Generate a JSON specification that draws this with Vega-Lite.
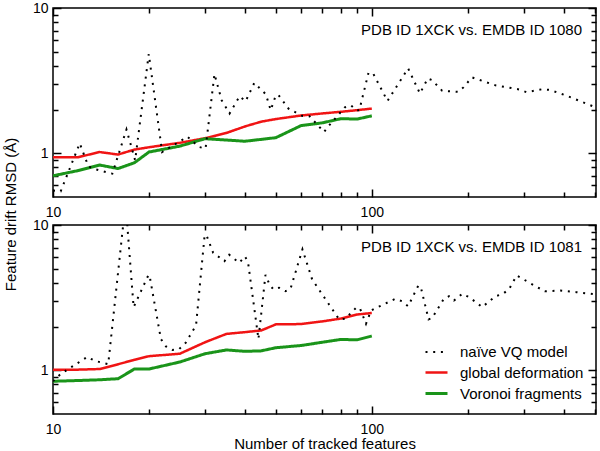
{
  "$schema": "https://vega.github.io/schema/vega-lite/v6.json",
  "padding": {"left": 2, "top": 0, "right": 5, "bottom": 5},
  "bounds": "flush",
  "spacing": 28,
  "config": {
    "font": "Liberation Sans",
    "view": {"stroke": "black", "strokeWidth": 1.5},
    "axis": {"domain": false, "grid": false, "ticks": true, "tickColor": "#000000", "tickOpacity": 1, "tickWidth": 1.5, "zindex": 1, "labelColor": "black", "titleColor": "black", "labelFont": "Liberation Sans", "titleFont": "Liberation Sans", "labelFontSize": 14, "titleFontSize": 15, "titleFontWeight": "normal", "labelFlush": false, "labelOverlap": false},
    "legend": {"labelFont": "Liberation Sans", "labelColor": "black"},
    "title": {"font": "Liberation Sans", "fontSize": 15, "fontWeight": "normal", "color": "black"}
  },
  "datasets": {
    "top": [
      {"features": 10, "rmsd": 0.94, "series": "global deformation"},
      {"features": 12, "rmsd": 0.94, "series": "global deformation"},
      {"features": 14, "rmsd": 1.02, "series": "global deformation"},
      {"features": 16, "rmsd": 0.98, "series": "global deformation"},
      {"features": 18, "rmsd": 1.06, "series": "global deformation"},
      {"features": 20, "rmsd": 1.10, "series": "global deformation"},
      {"features": 25, "rmsd": 1.18, "series": "global deformation"},
      {"features": 30, "rmsd": 1.27, "series": "global deformation"},
      {"features": 35, "rmsd": 1.38, "series": "global deformation"},
      {"features": 40, "rmsd": 1.53, "series": "global deformation"},
      {"features": 45, "rmsd": 1.65, "series": "global deformation"},
      {"features": 50, "rmsd": 1.72, "series": "global deformation"},
      {"features": 60, "rmsd": 1.82, "series": "global deformation"},
      {"features": 70, "rmsd": 1.88, "series": "global deformation"},
      {"features": 80, "rmsd": 1.93, "series": "global deformation"},
      {"features": 90, "rmsd": 1.98, "series": "global deformation"},
      {"features": 100, "rmsd": 2.03, "series": "global deformation"},
      {"features": 10, "rmsd": 0.70, "series": "Voronoi fragments"},
      {"features": 12, "rmsd": 0.76, "series": "Voronoi fragments"},
      {"features": 14, "rmsd": 0.83, "series": "Voronoi fragments"},
      {"features": 16, "rmsd": 0.785, "series": "Voronoi fragments"},
      {"features": 18, "rmsd": 0.86, "series": "Voronoi fragments"},
      {"features": 20, "rmsd": 1.02, "series": "Voronoi fragments"},
      {"features": 25, "rmsd": 1.12, "series": "Voronoi fragments"},
      {"features": 30, "rmsd": 1.26, "series": "Voronoi fragments"},
      {"features": 40, "rmsd": 1.21, "series": "Voronoi fragments"},
      {"features": 50, "rmsd": 1.28, "series": "Voronoi fragments"},
      {"features": 60, "rmsd": 1.55, "series": "Voronoi fragments"},
      {"features": 70, "rmsd": 1.62, "series": "Voronoi fragments"},
      {"features": 80, "rmsd": 1.73, "series": "Voronoi fragments"},
      {"features": 90, "rmsd": 1.72, "series": "Voronoi fragments"},
      {"features": 100, "rmsd": 1.81, "series": "Voronoi fragments"},
      {"features": 10, "rmsd": 0.555, "series": "naïve VQ model"},
      {"features": 10.57, "rmsd": 0.547, "series": "naïve VQ model"},
      {"features": 12.13, "rmsd": 1.17, "series": "naïve VQ model"},
      {"features": 12.9, "rmsd": 0.817, "series": "naïve VQ model"},
      {"features": 13.35, "rmsd": 0.784, "series": "naïve VQ model"},
      {"features": 15.35, "rmsd": 0.724, "series": "naïve VQ model"},
      {"features": 17.0, "rmsd": 1.457, "series": "naïve VQ model"},
      {"features": 18.1, "rmsd": 0.895, "series": "naïve VQ model"},
      {"features": 19.97, "rmsd": 4.82, "series": "naïve VQ model"},
      {"features": 22.0, "rmsd": 1.02, "series": "naïve VQ model"},
      {"features": 26.4, "rmsd": 1.30, "series": "naïve VQ model"},
      {"features": 28.7, "rmsd": 1.105, "series": "naïve VQ model"},
      {"features": 30.1, "rmsd": 1.077, "series": "naïve VQ model"},
      {"features": 32.1, "rmsd": 3.51, "series": "naïve VQ model"},
      {"features": 33.8, "rmsd": 2.32, "series": "naïve VQ model"},
      {"features": 35.8, "rmsd": 1.88, "series": "naïve VQ model"},
      {"features": 38.5, "rmsd": 2.47, "series": "naïve VQ model"},
      {"features": 40.2, "rmsd": 2.28, "series": "naïve VQ model"},
      {"features": 42.8, "rmsd": 3.05, "series": "naïve VQ model"},
      {"features": 46.5, "rmsd": 2.55, "series": "naïve VQ model"},
      {"features": 48.2, "rmsd": 1.98, "series": "naïve VQ model"},
      {"features": 50, "rmsd": 2.51, "series": "naïve VQ model"},
      {"features": 51, "rmsd": 2.51, "series": "naïve VQ model"},
      {"features": 54.8, "rmsd": 2.03, "series": "naïve VQ model"},
      {"features": 60.4, "rmsd": 1.81, "series": "naïve VQ model"},
      {"features": 63.8, "rmsd": 1.80, "series": "naïve VQ model"},
      {"features": 70.8, "rmsd": 1.40, "series": "naïve VQ model"},
      {"features": 73.6, "rmsd": 1.56, "series": "naïve VQ model"},
      {"features": 82.3, "rmsd": 2.07, "series": "naïve VQ model"},
      {"features": 86.0, "rmsd": 2.14, "series": "naïve VQ model"},
      {"features": 89.3, "rmsd": 1.98, "series": "naïve VQ model"},
      {"features": 91.4, "rmsd": 1.98, "series": "naïve VQ model"},
      {"features": 97.7, "rmsd": 3.60, "series": "naïve VQ model"},
      {"features": 101.2, "rmsd": 3.51, "series": "naïve VQ model"},
      {"features": 112, "rmsd": 2.29, "series": "naïve VQ model"},
      {"features": 130, "rmsd": 3.84, "series": "naïve VQ model"},
      {"features": 141.6, "rmsd": 2.58, "series": "naïve VQ model"},
      {"features": 149.8, "rmsd": 3.27, "series": "naïve VQ model"},
      {"features": 154.5, "rmsd": 3.19, "series": "naïve VQ model"},
      {"features": 166.3, "rmsd": 2.69, "series": "naïve VQ model"},
      {"features": 186.7, "rmsd": 2.65, "series": "naïve VQ model"},
      {"features": 193.8, "rmsd": 2.84, "series": "naïve VQ model"},
      {"features": 206, "rmsd": 3.33, "series": "naïve VQ model"},
      {"features": 244, "rmsd": 2.94, "series": "naïve VQ model"},
      {"features": 290, "rmsd": 2.75, "series": "naïve VQ model"},
      {"features": 306, "rmsd": 2.63, "series": "naïve VQ model"},
      {"features": 342, "rmsd": 2.76, "series": "naïve VQ model"},
      {"features": 362, "rmsd": 2.73, "series": "naïve VQ model"},
      {"features": 405, "rmsd": 2.51, "series": "naïve VQ model"},
      {"features": 504, "rmsd": 2.07, "series": "naïve VQ model"}
    ],
    "bottom": [
      {"features": 10, "rmsd": 1.01, "series": "global deformation"},
      {"features": 12, "rmsd": 1.01, "series": "global deformation"},
      {"features": 14, "rmsd": 1.02, "series": "global deformation"},
      {"features": 16, "rmsd": 1.10, "series": "global deformation"},
      {"features": 18, "rmsd": 1.18, "series": "global deformation"},
      {"features": 20, "rmsd": 1.25, "series": "global deformation"},
      {"features": 25, "rmsd": 1.30, "series": "global deformation"},
      {"features": 30, "rmsd": 1.56, "series": "global deformation"},
      {"features": 35, "rmsd": 1.78, "series": "global deformation"},
      {"features": 40, "rmsd": 1.83, "series": "global deformation"},
      {"features": 45, "rmsd": 1.88, "series": "global deformation"},
      {"features": 50, "rmsd": 2.07, "series": "global deformation"},
      {"features": 60, "rmsd": 2.08, "series": "global deformation"},
      {"features": 70, "rmsd": 2.17, "series": "global deformation"},
      {"features": 80, "rmsd": 2.27, "series": "global deformation"},
      {"features": 90, "rmsd": 2.42, "series": "global deformation"},
      {"features": 100, "rmsd": 2.48, "series": "global deformation"},
      {"features": 10, "rmsd": 0.84, "series": "Voronoi fragments"},
      {"features": 12, "rmsd": 0.85, "series": "Voronoi fragments"},
      {"features": 14, "rmsd": 0.86, "series": "Voronoi fragments"},
      {"features": 16, "rmsd": 0.875, "series": "Voronoi fragments"},
      {"features": 18, "rmsd": 1.02, "series": "Voronoi fragments"},
      {"features": 20, "rmsd": 1.02, "series": "Voronoi fragments"},
      {"features": 25, "rmsd": 1.14, "series": "Voronoi fragments"},
      {"features": 30, "rmsd": 1.30, "series": "Voronoi fragments"},
      {"features": 35, "rmsd": 1.38, "series": "Voronoi fragments"},
      {"features": 40, "rmsd": 1.35, "series": "Voronoi fragments"},
      {"features": 45, "rmsd": 1.36, "series": "Voronoi fragments"},
      {"features": 50, "rmsd": 1.43, "series": "Voronoi fragments"},
      {"features": 60, "rmsd": 1.48, "series": "Voronoi fragments"},
      {"features": 70, "rmsd": 1.56, "series": "Voronoi fragments"},
      {"features": 80, "rmsd": 1.63, "series": "Voronoi fragments"},
      {"features": 90, "rmsd": 1.62, "series": "Voronoi fragments"},
      {"features": 100, "rmsd": 1.72, "series": "Voronoi fragments"},
      {"features": 10, "rmsd": 0.84, "series": "naïve VQ model"},
      {"features": 10.57, "rmsd": 0.943, "series": "naïve VQ model"},
      {"features": 12.8, "rmsd": 1.235, "series": "naïve VQ model"},
      {"features": 13.55, "rmsd": 1.16, "series": "naïve VQ model"},
      {"features": 14.9, "rmsd": 1.10, "series": "naïve VQ model"},
      {"features": 16.6, "rmsd": 10.0, "series": "naïve VQ model"},
      {"features": 17.1, "rmsd": 10.0, "series": "naïve VQ model"},
      {"features": 17.9, "rmsd": 2.72, "series": "naïve VQ model"},
      {"features": 19.94, "rmsd": 4.54, "series": "naïve VQ model"},
      {"features": 20.1, "rmsd": 4.45, "series": "naïve VQ model"},
      {"features": 21.8, "rmsd": 1.64, "series": "naïve VQ model"},
      {"features": 22.6, "rmsd": 1.46, "series": "naïve VQ model"},
      {"features": 23.7, "rmsd": 1.38, "series": "naïve VQ model"},
      {"features": 24.8, "rmsd": 1.39, "series": "naïve VQ model"},
      {"features": 26.1, "rmsd": 1.55, "series": "naïve VQ model"},
      {"features": 28.1, "rmsd": 2.04, "series": "naïve VQ model"},
      {"features": 29.9, "rmsd": 8.52, "series": "naïve VQ model"},
      {"features": 30.3, "rmsd": 8.5, "series": "naïve VQ model"},
      {"features": 31.8, "rmsd": 6.44, "series": "naïve VQ model"},
      {"features": 34.5, "rmsd": 5.64, "series": "naïve VQ model"},
      {"features": 35.7, "rmsd": 6.24, "series": "naïve VQ model"},
      {"features": 38.4, "rmsd": 5.49, "series": "naïve VQ model"},
      {"features": 40, "rmsd": 6.08, "series": "naïve VQ model"},
      {"features": 40.9, "rmsd": 5.56, "series": "naïve VQ model"},
      {"features": 44.1, "rmsd": 1.64, "series": "naïve VQ model"},
      {"features": 46.4, "rmsd": 4.54, "series": "naïve VQ model"},
      {"features": 47.9, "rmsd": 3.84, "series": "naïve VQ model"},
      {"features": 49.2, "rmsd": 3.60, "series": "naïve VQ model"},
      {"features": 51.2, "rmsd": 3.70, "series": "naïve VQ model"},
      {"features": 53.6, "rmsd": 3.50, "series": "naïve VQ model"},
      {"features": 55.6, "rmsd": 3.64, "series": "naïve VQ model"},
      {"features": 60.6, "rmsd": 6.8, "series": "naïve VQ model"},
      {"features": 65.0, "rmsd": 4.22, "series": "naïve VQ model"},
      {"features": 79, "rmsd": 2.24, "series": "naïve VQ model"},
      {"features": 82.5, "rmsd": 2.26, "series": "naïve VQ model"},
      {"features": 89.7, "rmsd": 2.72, "series": "naïve VQ model"},
      {"features": 91.9, "rmsd": 2.65, "series": "naïve VQ model"},
      {"features": 95.9, "rmsd": 2.09, "series": "naïve VQ model"},
      {"features": 99.5, "rmsd": 2.58, "series": "naïve VQ model"},
      {"features": 101.8, "rmsd": 2.65, "series": "naïve VQ model"},
      {"features": 118.4, "rmsd": 3.10, "series": "naïve VQ model"},
      {"features": 124.4, "rmsd": 2.99, "series": "naïve VQ model"},
      {"features": 130, "rmsd": 2.76, "series": "naïve VQ model"},
      {"features": 140, "rmsd": 3.84, "series": "naïve VQ model"},
      {"features": 142.7, "rmsd": 3.68, "series": "naïve VQ model"},
      {"features": 150.7, "rmsd": 2.24, "series": "naïve VQ model"},
      {"features": 154.6, "rmsd": 2.29, "series": "naïve VQ model"},
      {"features": 168.4, "rmsd": 3.11, "series": "naïve VQ model"},
      {"features": 174.6, "rmsd": 3.23, "series": "naïve VQ model"},
      {"features": 181, "rmsd": 3.02, "series": "naïve VQ model"},
      {"features": 185.6, "rmsd": 3.14, "series": "naïve VQ model"},
      {"features": 191.9, "rmsd": 3.36, "series": "naïve VQ model"},
      {"features": 202, "rmsd": 3.19, "series": "naïve VQ model"},
      {"features": 222, "rmsd": 2.72, "series": "naïve VQ model"},
      {"features": 244, "rmsd": 3.23, "series": "naïve VQ model"},
      {"features": 258, "rmsd": 3.36, "series": "naïve VQ model"},
      {"features": 270, "rmsd": 3.64, "series": "naïve VQ model"},
      {"features": 284.7, "rmsd": 4.49, "series": "naïve VQ model"},
      {"features": 330, "rmsd": 3.74, "series": "naïve VQ model"},
      {"features": 349, "rmsd": 3.50, "series": "naïve VQ model"},
      {"features": 390, "rmsd": 3.54, "series": "naïve VQ model"},
      {"features": 438, "rmsd": 3.45, "series": "naïve VQ model"},
      {"features": 504, "rmsd": 3.33, "series": "naïve VQ model"}
    ]
  },
  "resolve": {"legend": {"color": "independent", "strokeDash": "independent", "strokeWidth": "independent"}},
  "vconcat": [
    {
      "width": 543,
      "height": 189,
      "data": {"name": "top"},
      "title": {"text": "PDB ID 1XCK vs. EMDB ID 1080", "anchor": "end", "orient": "top", "frame": "group", "offset": -22, "baseline": "middle", "dx": -14, "dy": 22, "fontSize": 15, "fontWeight": "normal"},
      "resolve": {"axis": {"x": "independent", "y": "independent"}},
      "layer": [
        {
          "mark": {"type": "line", "clip": true},
          "encoding": {
            "x": {"field": "features", "type": "quantitative", "scale": {"type": "log", "domain": [10, 505], "nice": false},
                  "axis": {"orient": "bottom", "values": [10, 100], "format": "d", "offset": -8, "tickSize": 8, "labelPadding": 8, "title": null}},
            "y": {"field": "rmsd", "type": "quantitative", "scale": {"type": "log", "domain": [0.5, 10], "nice": false},
                  "axis": {"orient": "left", "values": [1, 10], "format": "d", "offset": -8, "tickSize": 8, "labelPadding": 5, "title": "Feature drift RMSD (Å)", "titleY": 206, "titlePadding": 14}},
            "color": {"field": "series", "type": "nominal", "scale": {"domain": ["naïve VQ model", "global deformation", "Voronoi fragments"], "range": ["#000000", "#f01414", "#1a941a"]}, "legend": null},
            "strokeDash": {"field": "series", "type": "nominal", "scale": {"domain": ["naïve VQ model", "global deformation", "Voronoi fragments"], "range": [[2, 5.7], [1, 0], [1, 0]]}, "legend": null},
            "strokeWidth": {"field": "series", "type": "nominal", "scale": {"domain": ["naïve VQ model", "global deformation", "Voronoi fragments"], "range": [2, 3, 3]}, "legend": null}
          }
        },
        {
          "mark": {"type": "point", "opacity": 0},
          "encoding": {
            "x": {"field": "features", "type": "quantitative", "axis": {"orient": "bottom", "values": [20, 30, 40, 50, 60, 70, 80, 90, 200, 300, 400, 500], "offset": -5, "tickSize": 5, "labels": false, "title": null}},
            "y": {"field": "rmsd", "type": "quantitative", "axis": {"orient": "left", "values": [0.6, 0.7, 0.8, 0.9, 2, 3, 4, 5, 6, 7, 8, 9], "offset": -5, "tickSize": 5, "labels": false, "title": null}}
          }
        },
        {
          "mark": {"type": "point", "opacity": 0},
          "encoding": {
            "x": {"field": "features", "type": "quantitative", "axis": {"orient": "top", "values": [10, 100], "offset": -8, "tickSize": 8, "labels": false, "title": null}},
            "y": {"field": "rmsd", "type": "quantitative", "axis": {"orient": "right", "values": [1, 10], "offset": -8, "tickSize": 8, "labels": false, "title": null}}
          }
        },
        {
          "mark": {"type": "point", "opacity": 0},
          "encoding": {
            "x": {"field": "features", "type": "quantitative", "axis": {"orient": "top", "values": [20, 30, 40, 50, 60, 70, 80, 90, 200, 300, 400, 500], "offset": -5, "tickSize": 5, "labels": false, "title": null}},
            "y": {"field": "rmsd", "type": "quantitative", "axis": {"orient": "right", "values": [0.6, 0.7, 0.8, 0.9, 2, 3, 4, 5, 6, 7, 8, 9], "offset": -5, "tickSize": 5, "labels": false, "title": null}}
          }
        }
      ]
    },
    {
      "width": 543,
      "height": 189,
      "data": {"name": "bottom"},
      "title": {"text": "PDB ID 1XCK vs. EMDB ID 1081", "anchor": "end", "orient": "top", "frame": "group", "offset": -22, "baseline": "middle", "dx": -14, "dy": 22, "fontSize": 15, "fontWeight": "normal"},
      "resolve": {"axis": {"x": "independent", "y": "independent"}},
      "layer": [
        {
          "mark": {"type": "line", "clip": true},
          "encoding": {
            "x": {"field": "features", "type": "quantitative", "scale": {"type": "log", "domain": [10, 505], "nice": false},
                  "axis": {"orient": "bottom", "values": [10, 100], "format": "d", "offset": -8, "tickSize": 8, "labelPadding": 8, "title": "Number of tracked features", "titlePadding": 0}},
            "y": {"field": "rmsd", "type": "quantitative", "scale": {"type": "log", "domain": [0.5, 10], "nice": false},
                  "axis": {"orient": "left", "values": [1, 10], "format": "d", "offset": -8, "tickSize": 8, "labelPadding": 5, "title": null}},
            "color": {"field": "series", "type": "nominal", "scale": {"domain": ["naïve VQ model", "global deformation", "Voronoi fragments"], "range": ["#000000", "#f01414", "#1a941a"]},
                      "legend": {"orient": "bottom-right", "offset": 12, "title": null, "symbolType": "stroke", "symbolSize": 484, "symbolStrokeWidth": 2.5, "labelFontSize": 15, "labelOffset": 11, "rowPadding": -6}},
            "strokeDash": {"field": "series", "type": "nominal", "scale": {"domain": ["naïve VQ model", "global deformation", "Voronoi fragments"], "range": [[2, 5.7], [1, 0], [1, 0]]},
                      "legend": {"orient": "bottom-right", "offset": 12, "title": null, "symbolType": "stroke", "symbolSize": 484, "symbolStrokeWidth": 2.5, "labelFontSize": 15, "labelOffset": 11, "rowPadding": -6}},
            "strokeWidth": {"field": "series", "type": "nominal", "scale": {"domain": ["naïve VQ model", "global deformation", "Voronoi fragments"], "range": [2, 3, 3]}, "legend": null}
          }
        },
        {
          "mark": {"type": "point", "opacity": 0},
          "encoding": {
            "x": {"field": "features", "type": "quantitative", "axis": {"orient": "bottom", "values": [20, 30, 40, 50, 60, 70, 80, 90, 200, 300, 400, 500], "offset": -5, "tickSize": 5, "labels": false, "title": null}},
            "y": {"field": "rmsd", "type": "quantitative", "axis": {"orient": "left", "values": [0.6, 0.7, 0.8, 0.9, 2, 3, 4, 5, 6, 7, 8, 9], "offset": -5, "tickSize": 5, "labels": false, "title": null}}
          }
        },
        {
          "mark": {"type": "point", "opacity": 0},
          "encoding": {
            "x": {"field": "features", "type": "quantitative", "axis": {"orient": "top", "values": [10, 100], "offset": -8, "tickSize": 8, "labels": false, "title": null}},
            "y": {"field": "rmsd", "type": "quantitative", "axis": {"orient": "right", "values": [1, 10], "offset": -8, "tickSize": 8, "labels": false, "title": null}}
          }
        },
        {
          "mark": {"type": "point", "opacity": 0},
          "encoding": {
            "x": {"field": "features", "type": "quantitative", "axis": {"orient": "top", "values": [20, 30, 40, 50, 60, 70, 80, 90, 200, 300, 400, 500], "offset": -5, "tickSize": 5, "labels": false, "title": null}},
            "y": {"field": "rmsd", "type": "quantitative", "axis": {"orient": "right", "values": [0.6, 0.7, 0.8, 0.9, 2, 3, 4, 5, 6, 7, 8, 9], "offset": -5, "tickSize": 5, "labels": false, "title": null}}
          }
        }
      ]
    }
  ]
}
